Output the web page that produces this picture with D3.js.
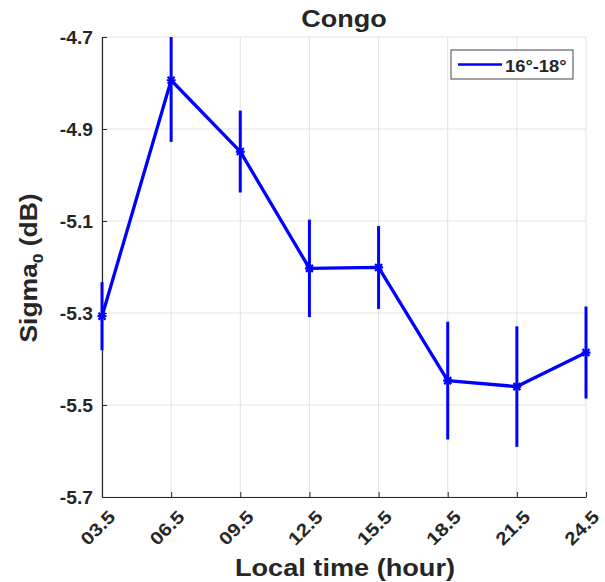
<!DOCTYPE html>
<html>
<head>
<meta charset="utf-8">
<script src="https://cdn.jsdelivr.net/npm/d3@7"></script>
<style>
  html, body { margin: 0; padding: 0; background: #fff; }
  svg text { font-family: "Liberation Sans", Arial, Helvetica, sans-serif; font-weight: bold; fill: #262626; }
</style>
</head>
<body>
<svg id="chart" width="605" height="582"></svg>
<script>
// ---- data ----
const timeLabels = ["03.5", "06.5", "09.5", "12.5", "15.5", "18.5", "21.5", "24.5"];
const timeValues = [3.5, 6.5, 9.5, 12.5, 15.5, 18.5, 21.5, 24.5];
const sigmaValues = [-5.307, -4.794, -4.949, -5.203, -5.201, -5.447, -5.460, -5.386];
const sigmaErrors = [0.074, 0.134, 0.089, 0.106, 0.090, 0.128, 0.131, 0.100];
const yTickValues = [-5.7, -5.5, -5.3, -5.1, -4.9, -4.7];
const seriesName = "16°-18°";
const titleText = "Congo";
const xLabelText = "Local time (hour)";

(function () {
const svg = d3.select("#chart");
const pLeft = 102, pRight = 586, pTop = 37, pBottom = 497;
const blue = "#0000ff";

const x = d3.scaleLinear().domain([3.5, 24.5]).range([pLeft, pRight]);
const y = d3.scaleLinear().domain([-5.7, -4.7]).range([pBottom, pTop]);

const pts = timeValues.map((t, i) => ({ t, v: sigmaValues[i], e: sigmaErrors[i] }));

// grid
const grid = svg.append("g").attr("stroke", "#e3e3e3").attr("stroke-width", 1);
grid.selectAll("line.gx").data(timeValues).join("line").attr("class", "gx")
  .attr("x1", d => x(d)).attr("x2", d => x(d)).attr("y1", pTop).attr("y2", pBottom);
grid.selectAll("line.gy").data(yTickValues).join("line").attr("class", "gy")
  .attr("x1", pLeft).attr("x2", pRight).attr("y1", d => y(d)).attr("y2", d => y(d));

// clip
svg.append("defs").append("clipPath").attr("id", "clip")
  .append("rect").attr("x", pLeft - 6).attr("y", pTop).attr("width", pRight - pLeft + 12).attr("height", pBottom - pTop);

// axes
const xAxis = d3.axisBottom(x).tickValues(timeValues).tickFormat((d, i) => timeLabels[i]).tickSize(-5).tickSizeOuter(0);
const gx = svg.append("g").attr("transform", `translate(0,${pBottom})`).call(xAxis);
gx.select(".domain").attr("stroke", "#262626").attr("stroke-width", 1.2);
gx.selectAll(".tick line").attr("stroke", "#262626");
gx.selectAll(".tick text")
  .attr("x", null).attr("y", null).attr("dy", null)
  .attr("text-anchor", "end")
  .attr("font-size", 18)
  .attr("fill", "#262626")
  .attr("transform", "translate(14,21) rotate(-45) scale(1.15,1)");

const yAxis = d3.axisLeft(y).tickValues(yTickValues).tickFormat(d => d3.format(".1f")(d).replace("−", "-")).tickSize(-5).tickSizeOuter(0);
const gy = svg.append("g").attr("transform", `translate(${pLeft},0)`).call(yAxis);
gy.select(".domain").attr("stroke", "#262626").attr("stroke-width", 1.2);
gy.selectAll(".tick line").attr("stroke", "#262626");
gy.selectAll(".tick text")
  .attr("x", null).attr("dy", null)
  .attr("text-anchor", "end")
  .attr("font-size", 17.5)
  .attr("fill", "#262626")
  .attr("transform", "translate(-9,6) scale(1.1,1)");

// data layer
const plot = svg.append("g").attr("clip-path", "url(#clip)");
plot.selectAll("line.err").data(pts).join("line").attr("class", "err")
  .attr("x1", d => x(d.t)).attr("x2", d => x(d.t))
  .attr("y1", d => y(d.v + d.e)).attr("y2", d => y(d.v - d.e))
  .attr("stroke", blue).attr("stroke-width", 3);

plot.append("path").datum(pts)
  .attr("d", d3.line().x(d => x(d.t)).y(d => y(d.v)))
  .attr("fill", "none").attr("stroke", blue).attr("stroke-width", 3.3).attr("stroke-linejoin", "round");

plot.selectAll("path.mk").data(pts).join("path").attr("class", "mk")
  .attr("d", d => {
    const cx = x(d.t), cy = y(d.v), s = 3.5;
    return `M${cx - s},${cy - s}L${cx + s},${cy + s}M${cx - s},${cy + s}L${cx + s},${cy - s}M${cx - 4.5},${cy}L${cx + 4.5},${cy}`;
  })
  .attr("stroke", blue).attr("stroke-width", 2.2).attr("fill", "none");

// title
svg.append("text").attr("transform", `translate(${(pLeft + pRight) / 2},26.5) scale(1.15,1)`)
  .attr("text-anchor", "middle").attr("font-size", 23.5).text(titleText);

// x label
svg.append("text").attr("transform", `translate(345,576) scale(1.18,1)`)
  .attr("text-anchor", "middle").attr("font-size", 23).text(xLabelText);

// y label
const yl = svg.append("text").attr("transform", `translate(37,268) rotate(-90) scale(1.15,1)`)
  .attr("text-anchor", "middle").attr("font-size", 23);
yl.append("tspan").text("Sigma");
yl.append("tspan").attr("font-size", 15).attr("dy", 6).text("0");
yl.append("tspan").attr("dy", -6).text(" (dB)");

// legend
const lg = svg.append("g");
lg.append("rect").attr("x", 451).attr("y", 50).attr("width", 122).attr("height", 29)
  .attr("fill", "#fff").attr("stroke", "#444").attr("stroke-width", 1);
lg.append("line").attr("x1", 458).attr("x2", 502).attr("y1", 64.5).attr("y2", 64.5)
  .attr("stroke", blue).attr("stroke-width", 2.5);
lg.append("text").attr("transform", "translate(505,71.5) scale(1.08,1)")
  .attr("font-size", 17).text(seriesName);
})();
</script>
</body>
</html>
